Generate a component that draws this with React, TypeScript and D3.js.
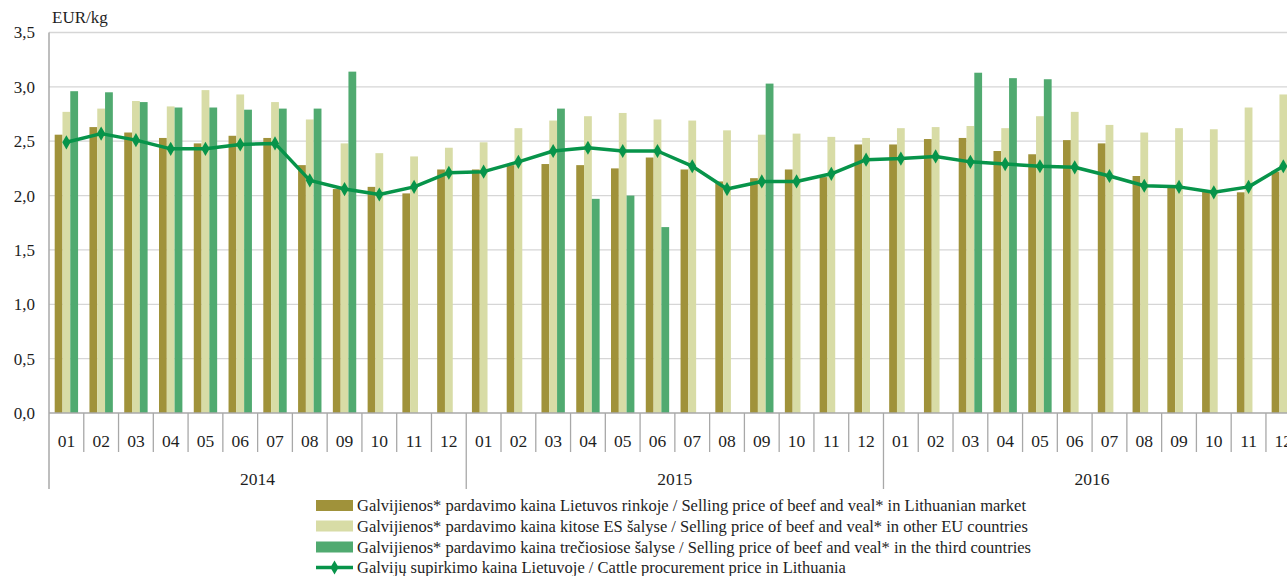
import React from "react";
import * as d3 from "d3";

const years = ["2014", "2015", "2016"];
const months = ["01", "02", "03", "04", "05", "06", "07", "08", "09", "10", "11", "12"];

const lithuanianMarket: number[] = [
  2.56, 2.63, 2.58, 2.53, 2.48, 2.55, 2.53, 2.28, 2.06, 2.08, 2.02, 2.24,
  2.24, 2.28, 2.29, 2.28, 2.25, 2.35, 2.24, 2.13, 2.16, 2.24, 2.17, 2.47,
  2.47, 2.52, 2.53, 2.41, 2.38, 2.51, 2.48, 2.18, 2.09, 2.04, 2.03, 2.22,
];
const otherEU: number[] = [
  2.77, 2.8, 2.87, 2.82, 2.97, 2.93, 2.86, 2.7, 2.48, 2.39, 2.36, 2.44,
  2.49, 2.62, 2.69, 2.73, 2.76, 2.7, 2.69, 2.6, 2.56, 2.57, 2.54, 2.53,
  2.62, 2.63, 2.64, 2.62, 2.73, 2.77, 2.65, 2.58, 2.62, 2.61, 2.81, 2.93,
];
const thirdCountries: (number | null)[] = [
  2.96, 2.95, 2.86, 2.81, 2.81, 2.79, 2.8, 2.8, 3.14, null, null, null,
  null, null, 2.8, 1.97, 2.0, 1.71, null, null, 3.03, null, null, null,
  null, null, 3.13, 3.08, 3.07, null, null, null, null, null, null, null,
];
const procurement: number[] = [
  2.49, 2.57, 2.51, 2.43, 2.43, 2.47, 2.48, 2.14, 2.06, 2.01, 2.08, 2.21,
  2.22, 2.31, 2.41, 2.44, 2.41, 2.41, 2.27, 2.06, 2.13, 2.13, 2.2, 2.33,
  2.34, 2.36, 2.31, 2.29, 2.27, 2.26, 2.18, 2.09, 2.08, 2.03, 2.08, 2.27,
];
const yTicks = [0, 0.5, 1, 1.5, 2, 2.5, 3, 3.5];
const legendLabels = [
  "Galvijienos* pardavimo kaina Lietuvos rinkoje / Selling price of beef and veal* in Lithuanian market",
  "Galvijienos* pardavimo kaina kitose ES šalyse / Selling price of beef and veal* in other EU countries",
  "Galvijienos* pardavimo kaina trečiosiose šalyse / Selling price of beef and veal* in the third countries",
  "Galvijų supirkimo kaina Lietuvoje / Cattle procurement price in Lithuania",
];

const W = 1287;
const H = 576;
const X0 = 49;
const STEP = 34.77;
const Y0 = 413;
const YTOP = 32.5;
const FONT = "Liberation Serif, Tinos, DejaVu Serif, Times New Roman, serif";
const TEXT = "#1e1e1e";
const COLORS = ["#A0923A", "#D8DCA6", "#50AA70"];
const LINE = "#07944A";
const GRID = "#d6d6d6";
const AXIS = "#a8a8a8";

const tstyle = (size: number): React.CSSProperties => ({ fontFamily: FONT, fontSize: size, fill: TEXT });

export default function App() {
  const cats = years.flatMap((y) => months.map((m) => `${y}-${m}`));
  const x = d3.scaleBand<string>().domain(cats).range([X0, X0 + STEP * cats.length]).paddingInner(0).paddingOuter(0);
  const sub = d3.scaleBand<string>().domain(["a", "b", "c"]).range([0, x.bandwidth()]).paddingInner(0).paddingOuter(0.73);
  const y = d3.scaleLinear().domain([0, 3.5]).range([Y0, YTOP]);
  const series: { key: string; vals: (number | null)[] }[] = [
    { key: "a", vals: lithuanianMarket },
    { key: "b", vals: otherEU },
    { key: "c", vals: thirdCountries },
  ];
  const line = d3
    .line<number>()
    .x((_, i) => (x(cats[i]) as number) + x.bandwidth() / 2)
    .y((d) => y(d));
  const diamond = d3.symbol().type(d3.symbolDiamond).size(58)() as string;

  const legendX = 316;
  const legendYs = [505.5, 526, 547, 567.5];

  return (
    <svg width={W} height={H} style={{ position: "absolute", left: 0, top: 0, background: "#fff" }}>
      <rect width={W} height={H} fill="#fff" />
      {yTicks.filter((t) => t > 0).map((t) => (
        <line key={t} x1={X0} x2={W} y1={y(t)} y2={y(t)} stroke={GRID} strokeWidth={1.3} />
      ))}
      {yTicks.map((t) => (
        <text key={t} x={35} y={y(t)} dy="0.35em" textAnchor="end" style={tstyle(17)}>
          {d3.format(".1f")(t).replace(".", ",")}
        </text>
      ))}
      <text x={52} y={23} style={tstyle(17)}>EUR/kg</text>
      {series.map((s, si) =>
        s.vals.map((v, i) =>
          v == null ? null : (
            <rect
              key={`${s.key}-${i}`}
              x={(x(cats[i]) as number) + (sub(s.key) as number)}
              y={y(v)}
              width={sub.bandwidth()}
              height={Y0 - y(v)}
              fill={COLORS[si]}
            />
          )
        )
      )}
      <line x1={X0} x2={W} y1={Y0} y2={Y0} stroke={AXIS} strokeWidth={1.5} />
      <line x1={X0} x2={X0} y1={YTOP} y2={489} stroke={AXIS} strokeWidth={1.5} />
      {cats.map((c, i) => {
        const xl = x(c) as number;
        const isYear = i % 12 === 0;
        return i === 0 ? null : (
          <line key={`t${c}`} x1={xl} x2={xl} y1={Y0} y2={isYear ? 489 : 452} stroke={AXIS} strokeWidth={1.3} />
        );
      })}
      {cats.map((c, i) => (
        <text key={`m${c}`} x={(x(c) as number) + x.bandwidth() / 2} y={447} textAnchor="middle" style={tstyle(17.5)}>
          {months[i % 12]}
        </text>
      ))}
      {years.map((yr) => {
        const a = x(`${yr}-01`) as number;
        const b = (x(`${yr}-12`) as number) + x.bandwidth();
        return (
          <text key={yr} x={(a + b) / 2} y={485} textAnchor="middle" style={tstyle(17.5)}>
            {yr}
          </text>
        );
      })}
      <path d={line(procurement) as string} fill="none" stroke={LINE} strokeWidth={3.5} strokeLinejoin="round" />
      {procurement.map((v, i) => (
        <path key={`d${i}`} d={diamond} transform={`translate(${(x(cats[i]) as number) + x.bandwidth() / 2},${y(v)})`} fill={LINE} />
      ))}
      {legendLabels.map((lab, i) => (
        <g key={lab}>
          {i < 3 ? (
            <rect x={legendX} y={legendYs[i] - 5.5} width={37} height={11} fill={COLORS[i]} />
          ) : (
            <g>
              <line x1={legendX} x2={legendX + 37} y1={legendYs[i]} y2={legendYs[i]} stroke={LINE} strokeWidth={3.5} />
              <path d={diamond} transform={`translate(${legendX + 18.5},${legendYs[i]})`} fill={LINE} />
            </g>
          )}
          <text x={357} y={legendYs[i]} dy="0.35em" style={tstyle(16.5)}>
            {lab}
          </text>
        </g>
      ))}
    </svg>
  );
}
